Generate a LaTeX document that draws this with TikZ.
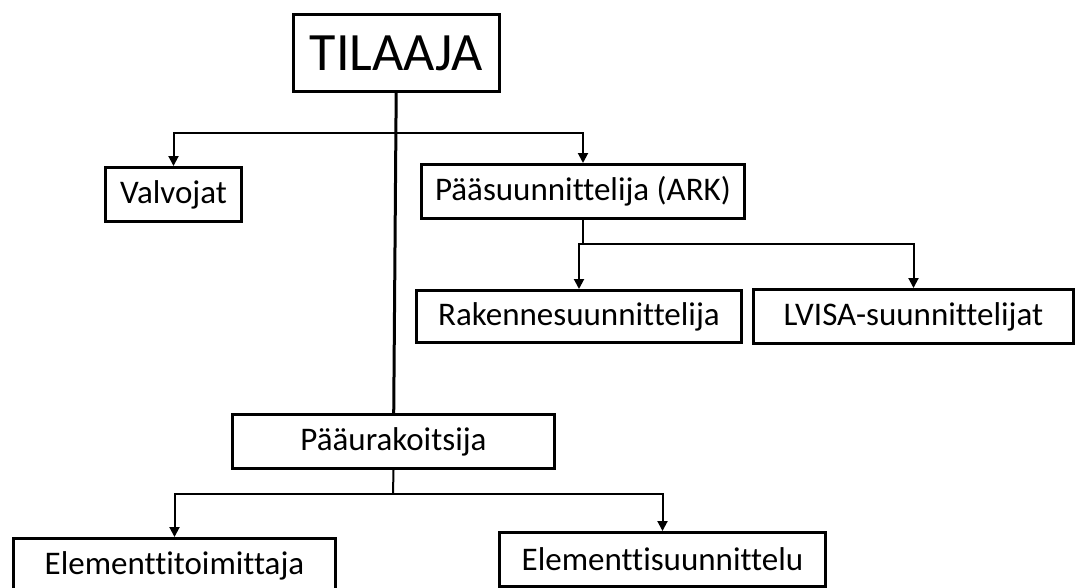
\documentclass[tikz,border=0pt]{standalone}
\usepackage{fontspec}
\setmainfont[Ligatures=NoCommon]{Carlito}
\usetikzlibrary{arrows.meta}

\begin{document}
\begin{tikzpicture}[x=1pt,y=-1pt,
  box/.style={draw, line width=3pt, inner sep=0pt, font=\fontsize{33}{40}\selectfont},
  conn/.style={line width=2pt},
  arr/.style={conn, -{Triangle[length=10pt,width=10pt]}}]
\useasboundingbox (0,0) rectangle (1077,587);
\node[box, minimum width=206, minimum height=77, font=\fontsize{54}{62}\selectfont] (tilaaja) at (396.5,53) {TILAAJA};
\node[box, minimum width=136, minimum height=54] (valvojat) at (173.5,194.5) {Valvojat};
\node[box, minimum width=323, minimum height=54] (paasuun) at (583,191.5) {Pääsuunnittelija (ARK)};
\node[box, minimum width=325, minimum height=52] (rakenne) at (579,316.5) {Rakennesuunnittelija};
\node[box, minimum width=320, minimum height=54] (lvisa) at (913.5,316.5) {LVISA-suunnittelijat};
\node[box, minimum width=322, minimum height=54] (paaurak) at (393.5,441.5) {Pääurakoitsija};
\node[box, minimum width=322, minimum height=54] (eltoim) at (174.5,565.5) {Elementtitoimittaja};
\node[box, minimum width=326, minimum height=54] (elsuun) at (662.5,559.5) {Elementtisuunnittelu};
\coordinate (b1) at (396,133);
\coordinate (b2) at (583,244);
\coordinate (b3) at (393,494);
\draw [line width=3pt] (tilaaja) -- (paaurak);
\draw [arr] (b1) -| (valvojat.north);
\draw [arr] (b1) -| (paasuun.north);
\draw [conn] (paasuun.south) -- (b2);
\draw [arr] (b2) -| (rakenne.north);
\draw [arr] (b2) -| (lvisa.north);
\draw [conn] (paaurak.south) -- (b3);
\draw [arr] (b3) -| (eltoim.north);
\draw [arr] (b3) -| (elsuun.north);
\end{tikzpicture}
\end{document}
